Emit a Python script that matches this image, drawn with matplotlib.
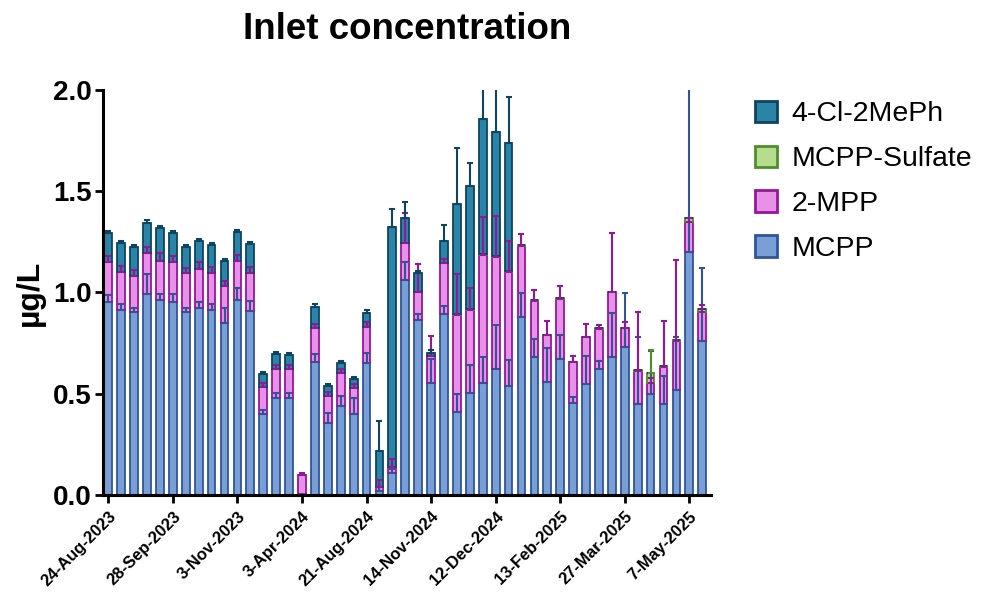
import numpy as np
import matplotlib
matplotlib.use("Agg")
import matplotlib.pyplot as plt
from matplotlib.patches import Patch

plt.rcParams['font.family'] = ['Liberation Sans', 'DejaVu Sans']

# stacked segment values (ug/L), one entry per sampling date
mcpp = [0.955, 0.914, 0.902, 0.993, 0.963, 0.953, 0.902, 0.922, 0.914, 0.851,
        0.963, 0.910, 0.398, 0.481, 0.481, 0.005, 0.658, 0.357, 0.440, 0.398,
        0.650, 0.020, 0.107, 1.062, 0.864, 0.551, 0.892, 0.408, 0.502, 0.551,
        0.621, 0.538, 0.877, 0.680, 0.556, 0.670, 0.456, 0.548, 0.621, 0.680,
        0.729, 0.449, 0.499, 0.449, 0.519, 1.202, 0.762]
mpp2 = [0.197, 0.189, 0.179, 0.200, 0.194, 0.198, 0.193, 0.196, 0.184, 0.181,
        0.194, 0.188, 0.137, 0.143, 0.143, 0.094, 0.165, 0.132, 0.161, 0.129,
        0.178, 0.021, 0.030, 0.181, 0.137, 0.135, 0.252, 0.481, 0.412, 0.634,
        0.556, 0.565, 0.353, 0.280, 0.234, 0.298, 0.202, 0.234, 0.197, 0.324,
        0.097, 0.165, 0.056, 0.182, 0.241, 0.148, 0.140]
sulfate = [0, 0, 0, 0, 0, 0, 0, 0, 0, 0,
           0, 0, 0, 0, 0, 0, 0, 0, 0, 0,
           0, 0, 0, 0, 0, 0, 0, 0.005, 0.005, 0.005,
           0.005, 0.005, 0.004, 0.004, 0, 0.004, 0, 0, 0.004, 0,
           0, 0.004, 0.049, 0.004, 0.004, 0.018, 0.015]
cl2meph = [0.143, 0.140, 0.145, 0.152, 0.160, 0.144, 0.131, 0.136, 0.138, 0.124,
           0.142, 0.142, 0.063, 0.071, 0.069, 0.0, 0.104, 0.049, 0.049, 0.044,
           0.072, 0.178, 1.185, 0.126, 0.097, 0.017, 0.109, 0.543, 0.607, 0.665,
           0.609, 0.632, 0, 0, 0, 0, 0, 0, 0, 0,
           0, 0, 0, 0, 0, 0, 0]

# upper error bars (SD)
mcpp_err = [0.03, 0.03, 0.02, 0.10, 0.03, 0.04, 0.02, 0.03, 0.03, 0.07,
            0.06, 0.05, 0.02, 0.02, 0.02, 0.0, 0.04, 0.05, 0.05, 0.08,
            0.05, 0.02, 0.02, 0.09, 0.03, 0.12, 0.04, 0.09, 0.14, 0.13,
            0.22, 0.13, 0.12, 0.09, 0.17, 0.12, 0.03, 0.14, 0.04, 0.22,
            0.27, 0.33, 0.21, 0.14, 0.26, 1.00, 0.36]
mpp2_err = [0.03, 0.03, 0.03, 0.033, 0.036, 0.03, 0.025, 0.03, 0.03, 0.026,
            0.03, 0.03, 0.02, 0.02, 0.02, 0.01, 0.02, 0.02, 0.02, 0.02,
            0.025, 0.035, 0.04, 0.15, 0.14, 0.10, 0.02, 0.20, 0.11, 0.19,
            0.20, 0.15, 0.06, 0.05, 0.07, 0.065, 0.03, 0.06, 0.02, 0.29,
            0.03, 0.29, 0.02, 0.23, 0.40, 0.02, 0.035]
sulfate_err = [0] * 42 + [0.11, 0, 0, 0, 0]
cl_err = [0.01, 0.01, 0.01, 0.013, 0.01, 0.01, 0.01, 0.01, 0.01, 0.01,
          0.01, 0.01, 0.01, 0.01, 0.01, 0, 0.016, 0.01, 0.01, 0.01,
          0.013, 0.148, 0.089, 0.079, 0.01, 0.015, 0.082, 0.278, 0.115, 0.30,
          0.30, 0.227, 0, 0, 0, 0, 0, 0, 0, 0,
          0, 0, 0, 0, 0, 0, 0]

tick_labels = ['24-Aug-2023', '28-Sep-2023', '3-Nov-2023', '3-Apr-2024',
               '21-Aug-2024', '14-Nov-2024', '12-Dec-2024', '13-Feb-2025',
               '27-Mar-2025', '7-May-2025']

series = [
    ('MCPP', mcpp, mcpp_err, '#7A9FD6', '#2F5597'),
    ('2-MPP', mpp2, mpp2_err, '#E891E8', '#94179A'),
    ('MCPP-Sulfate', sulfate, sulfate_err, '#B8DC8E', '#4E8F2A'),
    ('4-Cl-2MePh', cl2meph, cl_err, '#2984A8', '#0E4460'),
]

fig = plt.figure(figsize=(9.99, 5.92), dpi=100)
ax = fig.add_axes([0.103, 0.164, 0.609, 0.684])

x = np.arange(len(mcpp))
bottom = np.zeros(len(mcpp))
handles = []
for name, vals, err, face, edge in series:
    vals = np.array(vals, dtype=float)
    err = np.array(err, dtype=float)
    ax.bar(x, vals, width=0.6, bottom=bottom, color=face, edgecolor=edge,
           linewidth=1.3, zorder=2)
    top = bottom + vals
    show = (vals > 0) & (err > 0)
    ax.errorbar(x[show], top[show], yerr=[np.zeros(show.sum()), err[show]],
                fmt='none', ecolor=edge, elinewidth=1.5, capsize=2.5,
                capthick=1.5, zorder=3)
    bottom = top
    handles.append(Patch(facecolor=face, edgecolor=edge, linewidth=2, label=name))

ax.set_ylim(0, 2.0)
ax.set_xlim(-0.42, 46.7)
ax.set_yticks([0.0, 0.5, 1.0, 1.5, 2.0])
ax.set_yticklabels(['0.0', '0.5', '1.0', '1.5', '2.0'], fontsize=20, fontweight='bold')
ax.set_xticks(np.arange(0, 50, 5))
ax.set_xticklabels(tick_labels, rotation=45, ha='right', rotation_mode='anchor',
                   fontsize=12, fontweight='bold')
ax.tick_params(axis='both', width=2, length=6, color='black')
ax.tick_params(axis='x', pad=4)
ax.tick_params(axis='y', pad=2)
for side in ['top', 'right']:
    ax.spines[side].set_visible(False)
for side in ['left', 'bottom']:
    ax.spines[side].set_linewidth(2.2)

ax.set_ylabel('µg/L', fontsize=23, fontweight='bold', labelpad=6)
ax.set_title('Inlet concentration', fontsize=26.5, fontweight='bold', pad=37)

fig.legend(handles=handles[::-1], loc='upper left', bbox_to_anchor=(0.73, 0.873),
           frameon=False, fontsize=20.5, handlelength=0.78, handleheight=0.78,
           labelspacing=0.64, handletextpad=0.5)

fig.savefig('out.png', dpi=100)
